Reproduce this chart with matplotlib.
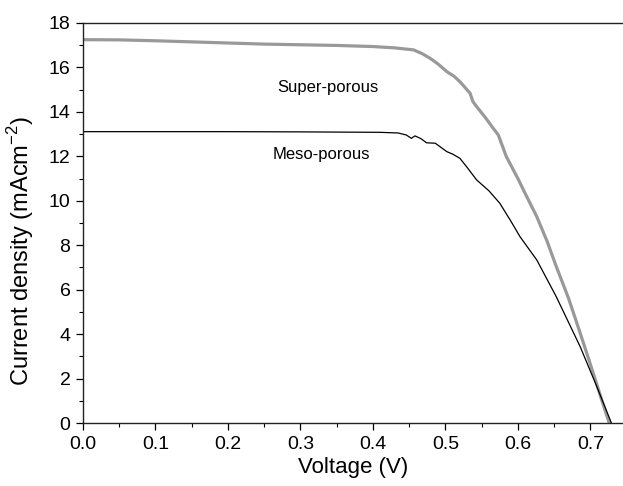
import numpy as np
import matplotlib
matplotlib.use("Agg")
import matplotlib.pyplot as plt
from matplotlib.ticker import MultipleLocator, FormatStrFormatter

plt.rcParams['font.family'] = ['Liberation Sans', 'DejaVu Sans']
plt.rcParams['mathtext.fontset'] = 'custom'
plt.rcParams['mathtext.rm'] = 'Liberation Sans'

# 读图得到的 J-V 数据
super_v = [0.0, 0.05, 0.1, 0.15, 0.2, 0.25, 0.3, 0.35, 0.4, 0.43, 0.456, 0.468, 0.479, 0.49,
           0.502, 0.512, 0.52, 0.534, 0.538, 0.543, 0.555, 0.566, 0.573, 0.584, 0.6,
           0.612, 0.626, 0.64, 0.653, 0.67, 0.686, 0.704, 0.715, 0.726]
super_j = [17.25, 17.24, 17.2, 17.15, 17.1, 17.05, 17.02, 16.99, 16.94, 16.88, 16.79, 16.62, 16.41, 16.15,
           15.81, 15.6, 15.36, 14.84, 14.46, 14.24, 13.75, 13.26, 12.96, 11.99, 11.0,
           10.2, 9.29, 8.2, 7.04, 5.6, 4.04, 2.24, 1.1, 0.0]

meso_v = [0.0, 0.1, 0.2, 0.3, 0.41, 0.435, 0.446, 0.453, 0.458, 0.466, 0.474, 0.486, 0.494,
          0.502, 0.51, 0.52, 0.53, 0.543, 0.56, 0.575, 0.59, 0.603, 0.626, 0.653, 0.686,
          0.709, 0.729]
meso_j = [13.11, 13.11, 13.11, 13.1, 13.08, 13.05, 12.96, 12.81, 12.92, 12.8, 12.61, 12.59, 12.4,
          12.21, 12.1, 11.91, 11.5, 10.94, 10.45, 9.89, 9.1, 8.38, 7.34, 5.68, 3.43,
          1.63, 0.0]

fig = plt.figure(figsize=(6.23, 4.86), dpi=100)
ax = fig.add_axes([0.1332, 0.1296, 0.8668, 0.8231])

ax.plot(super_v, super_j, color='#999999', lw=2.3, solid_joinstyle='round')
ax.plot(meso_v, meso_j, color='black', lw=0.9)

ax.text(0.268, 15.08, 'Super-porous', fontsize=12, va='center')
ax.text(0.262, 12.06, 'Meso-porous', fontsize=12, va='center')

ax.set_xlim(0, 0.745)
ax.set_ylim(0, 18)
ax.xaxis.set_major_locator(MultipleLocator(0.1))
ax.xaxis.set_minor_locator(MultipleLocator(0.05))
ax.yaxis.set_major_locator(MultipleLocator(2))
ax.yaxis.set_minor_locator(MultipleLocator(1))
ax.xaxis.set_major_formatter(FormatStrFormatter('%.1f'))

ax.spines['right'].set_visible(False)
for s in ['left', 'bottom', 'top']:
    ax.spines[s].set_linewidth(1.0)
    ax.spines[s].set_color('#222222')
ax.tick_params(which='major', direction='out', length=5, width=0.9, labelsize=14, pad=4)
ax.tick_params(which='minor', direction='out', length=3, width=0.8)
ax.tick_params(top=False, right=False)

ax.set_xlabel('Voltage (V)', fontsize=16, labelpad=3)
ax.set_ylabel('Current density (mAcm$^{\\mathregular{-2}}$)', fontsize=17)
ax.yaxis.set_label_coords(-0.087, 0.43)

fig.savefig('out.png', dpi=100)
